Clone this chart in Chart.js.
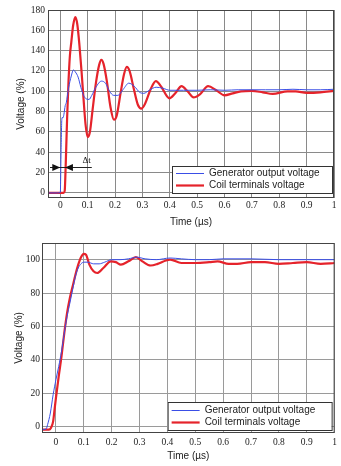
<!DOCTYPE html>
<html>
<head>
<meta charset="utf-8">
<script src="https://cdn.jsdelivr.net/npm/chart.js@4"></script>
<style>
  html, body { margin: 0; padding: 0; background: #fff; }
  .box { position: absolute; left: 0; width: 341px; }
  #top { top: 0; height: 230px; }
  #bottom { top: 230px; height: 236px; }
</style>
</head>
<body>
<div class="box" id="top"><canvas id="topChart"></canvas></div>
<div class="box" id="bottom"><canvas id="bottomChart"></canvas></div>
<script>
// series labels
const seriesNames = ["Generator output voltage", "Coil terminals voltage"];

// tick values
const xTicks = [0, 0.1, 0.2, 0.3, 0.4, 0.5, 0.6, 0.7, 0.8, 0.9, 1];
const topYTicks = [0, 20, 40, 60, 80, 100, 120, 140, 160, 180];
const bottomYTicks = [0, 20, 40, 60, 80, 100];

// top chart, [time (µs), voltage (%)]
const topGenerator = [
  [-0.045, 0], [-0.01, 0], [0, 0.5], [0.003, 45], [0.006, 74], [0.01, 74], [0.013, 77],
  [0.018, 86], [0.022, 89], [0.03, 103], [0.04, 115], [0.048, 121], [0.055, 119],
  [0.065, 114], [0.075, 104], [0.085, 96], [0.095, 92.5], [0.105, 92], [0.115, 96],
  [0.13, 104], [0.15, 110], [0.165, 108], [0.18, 100], [0.195, 96], [0.21, 96],
  [0.23, 102], [0.25, 108], [0.27, 105], [0.29, 99], [0.305, 98], [0.325, 101],
  [0.35, 104], [0.375, 103], [0.4, 101], [0.45, 101], [0.5, 101], [0.55, 101.5],
  [0.6, 101], [0.65, 101.5], [0.7, 101.5], [0.75, 101.5], [0.8, 101.5], [0.85, 102],
  [0.9, 101.5], [0.95, 101.5], [1, 102]
];
const topCoil = [
  [-0.045, 0], [0.012, 0], [0.016, 2], [0.02, 30], [0.025, 75], [0.03, 110], [0.035, 135],
  [0.04, 148], [0.047, 165], [0.055, 173], [0.062, 166], [0.07, 145], [0.078, 118],
  [0.085, 92], [0.092, 68], [0.1, 55], [0.108, 60], [0.118, 82], [0.13, 108],
  [0.142, 126], [0.15, 131], [0.158, 127], [0.17, 110], [0.183, 85], [0.196, 72],
  [0.206, 76], [0.22, 98], [0.233, 117], [0.243, 124], [0.253, 120], [0.268, 103],
  [0.283, 87], [0.296, 83], [0.31, 88], [0.33, 102], [0.349, 110], [0.37, 104],
  [0.39, 95], [0.398, 93], [0.42, 98], [0.443, 105], [0.465, 100], [0.487, 94],
  [0.51, 97], [0.54, 105], [0.57, 101], [0.6, 96], [0.63, 98], [0.66, 100],
  [0.7, 100.5], [0.74, 99], [0.776, 97.5], [0.83, 100], [0.86, 100], [0.9, 98.5],
  [0.95, 99], [1, 100.5]
];

// bottom chart, [time (µs), voltage (%)]
const bottomGenerator = [
  [-0.05, -2], [-0.035, -1.5], [-0.03, 1], [-0.02, 8], [-0.01, 19], [0, 28], [0.01, 36],
  [0.02, 45], [0.03, 56], [0.04, 66], [0.05, 74], [0.06, 82], [0.07, 90], [0.08, 95],
  [0.09, 97.5], [0.1, 98.5], [0.115, 98.5], [0.135, 97.5], [0.155, 97.5], [0.175, 98.5],
  [0.2, 100], [0.23, 100], [0.26, 100.5], [0.29, 101.5], [0.32, 100.5], [0.36, 100],
  [0.41, 101], [0.45, 100.5], [0.5, 100], [0.55, 100], [0.6, 100.5], [0.7, 100.5],
  [0.8, 100], [0.9, 100], [1, 100]
];
const bottomCoil = [
  [-0.05, -2], [-0.025, -2], [-0.018, -1], [-0.01, 3], [-0.005, 10], [0, 17], [0.01, 30],
  [0.02, 42], [0.03, 56], [0.04, 68], [0.05, 77], [0.06, 84], [0.07, 91], [0.08, 97],
  [0.09, 101.5], [0.1, 103.5], [0.108, 103], [0.12, 97], [0.135, 93], [0.148, 92],
  [0.17, 95], [0.197, 99], [0.215, 98.5], [0.233, 97], [0.26, 99], [0.287, 101.5],
  [0.31, 99], [0.34, 96.5], [0.365, 97.5], [0.395, 99.5], [0.41, 100], [0.45, 98],
  [0.5, 98], [0.55, 98.5], [0.58, 99], [0.62, 97.5], [0.65, 97.5], [0.7, 98.5],
  [0.75, 98.5], [0.8, 97.5], [0.85, 98], [0.9, 98.5], [0.95, 97.5], [1, 98]
];

const BLUE = "#3a4ee6";
const RED = "#e5232b";
const tickFont = { family: "'Liberation Serif', 'DejaVu Serif', serif", size: 9.5 };
const titleFont = { family: "'Liberation Sans', Arial, sans-serif", size: 10 };

function toPoints(arr) {
  return arr.map((p) => ({ x: p[0], y: p[1] }));
}

// frame + legend box + optional delta-t marker
const extrasPlugin = {
  id: "extras",
  afterDatasetsDraw(chart, args, opts) {
    const { ctx, chartArea: a } = chart;
    ctx.save();
    ctx.strokeStyle = "#444";
    ctx.lineWidth = 1;
    ctx.strokeRect(a.left + 0.5, a.top + 0.5, a.right - a.left - 1, a.bottom - a.top - 1);

    if (opts.delta) {
      const xs = chart.scales.x, ys = chart.scales.y;
      const y = Math.round(ys.getPixelForValue(opts.delta.y)) + 0.5;
      const x0 = xs.getPixelForValue(opts.delta.from);
      const x1 = xs.getPixelForValue(opts.delta.to);
      ctx.strokeStyle = "#222";
      ctx.beginPath();
      ctx.moveTo(a.left + 2, y);
      ctx.lineTo(xs.getPixelForValue(opts.delta.lineEnd), y);
      ctx.stroke();
      ctx.fillStyle = "#111";
      ctx.beginPath();
      ctx.moveTo(x0, y); ctx.lineTo(x0 - 8, y - 3.5); ctx.lineTo(x0 - 8, y + 3.5);
      ctx.closePath(); ctx.fill();
      ctx.beginPath();
      ctx.moveTo(x1, y); ctx.lineTo(x1 + 8, y - 3.5); ctx.lineTo(x1 + 8, y + 3.5);
      ctx.closePath(); ctx.fill();
      ctx.font = "9px 'Liberation Serif', serif";
      ctx.textAlign = "center";
      ctx.textBaseline = "middle";
      ctx.fillText("\u0394t", xs.getPixelForValue(opts.delta.labelX), ys.getPixelForValue(opts.delta.labelY));
    }

    // legend
    const L = opts.legend;
    const bx = a.right - L.right - L.width, by = a.bottom - L.bottom - L.height;
    ctx.fillStyle = "#fff";
    ctx.fillRect(bx, by, L.width, L.height);
    ctx.strokeStyle = "#333";
    ctx.lineWidth = 1;
    ctx.strokeRect(bx + 0.5, by + 0.5, L.width, L.height);
    ctx.font = "10px 'Liberation Sans', Arial, sans-serif";
    ctx.textAlign = "left";
    ctx.textBaseline = "middle";
    chart.data.datasets.forEach((ds, i) => {
      const ry = Math.round(by + L.height * (i === 0 ? 0.27 : 0.71)) + 0.5;
      ctx.strokeStyle = ds.borderColor;
      ctx.lineWidth = i === 0 ? 1 : 2.2;
      ctx.beginPath();
      ctx.moveTo(bx + 4, ry);
      ctx.lineTo(bx + 32, ry);
      ctx.stroke();
      ctx.fillStyle = "#222";
      ctx.fillText(ds.label, bx + 37, ry);
    });
    ctx.restore();
  },
};

function makeChart(id, cfg) {
  return new Chart(document.getElementById(id), {
    type: "line",
    data: {
      datasets: [
        { label: seriesNames[0], data: toPoints(cfg.gen), borderColor: BLUE, borderWidth: 1 },
        { label: seriesNames[1], data: toPoints(cfg.coil), borderColor: RED, borderWidth: 2.2 },
      ],
    },
    options: {
      responsive: true,
      maintainAspectRatio: false,
      animation: false,
      parsing: false,
      elements: { point: { radius: 0 }, line: { cubicInterpolationMode: "monotone" } },
      layout: { padding: cfg.padding },
      plugins: {
        legend: { display: false },
        tooltip: { enabled: false },
        extras: { legend: cfg.legend, delta: cfg.delta },
      },
      scales: {
        x: {
          type: "linear",
          min: cfg.xMin,
          max: 1,
          afterBuildTicks: (axis) => { axis.ticks = xTicks.map((v) => ({ value: v })); },
          afterFit: (axis) => { axis.height = cfg.xHeight; },
          grid: { color: cfg.gridColor, lineWidth: 1, drawTicks: false },
          border: { display: false },
          ticks: {
            font: tickFont, color: "#222", padding: cfg.xTickPad, maxRotation: 0,
            callback: (v) => String(v),
          },
          title: { display: true, text: "Time (\u00b5s)", font: titleFont, color: "#222", padding: { top: 0, bottom: cfg.xTitlePad } },
        },
        y: {
          min: cfg.yMin,
          max: cfg.yMax,
          afterBuildTicks: (axis) => { axis.ticks = cfg.yTicks.map((v) => ({ value: v })); },
          afterFit: (axis) => { axis.width = cfg.yWidth; },
          grid: { color: cfg.gridColor, lineWidth: 1, drawTicks: false },
          border: { display: false },
          ticks: { font: tickFont, color: "#222", padding: cfg.yTickPad },
          title: { display: true, text: "Voltage (%)", font: titleFont, color: "#222", padding: { top: cfg.yTitlePad, bottom: 0 } },
        },
      },
    },
    plugins: [extrasPlugin],
  });
}

makeChart("topChart", {
  gen: topGenerator,
  coil: topCoil,
  xMin: -0.045, yMin: -5, yMax: 180, yTicks: topYTicks,
  padding: { left: 0, right: 7, top: 10, bottom: 0 },
  xHeight: 32, yWidth: 48,
  xTickPad: 2, yTickPad: 3, xTitlePad: 2, yTitlePad: 15,
  gridColor: "#8a8a8a",
  legend: { width: 160, height: 27, right: 2, bottom: 5 },
  delta: { y: 25.5, from: 0, to: 0.017, lineEnd: 0.115, labelX: 0.096, labelY: 32 },
});

makeChart("bottomChart", {
  gen: bottomGenerator,
  coil: bottomCoil,
  xMin: -0.05, yMin: -4, yMax: 110, yTicks: bottomYTicks,
  padding: { left: 0, right: 5, top: 13, bottom: 0 },
  xHeight: 33, yWidth: 42,
  xTickPad: 4, yTickPad: 2, xTitlePad: 4, yTitlePad: 13,
  gridColor: "#9a9a9a",
  legend: { width: 164, height: 28, right: 3, bottom: 3 },
  delta: null,
});
</script>
</body>
</html>
